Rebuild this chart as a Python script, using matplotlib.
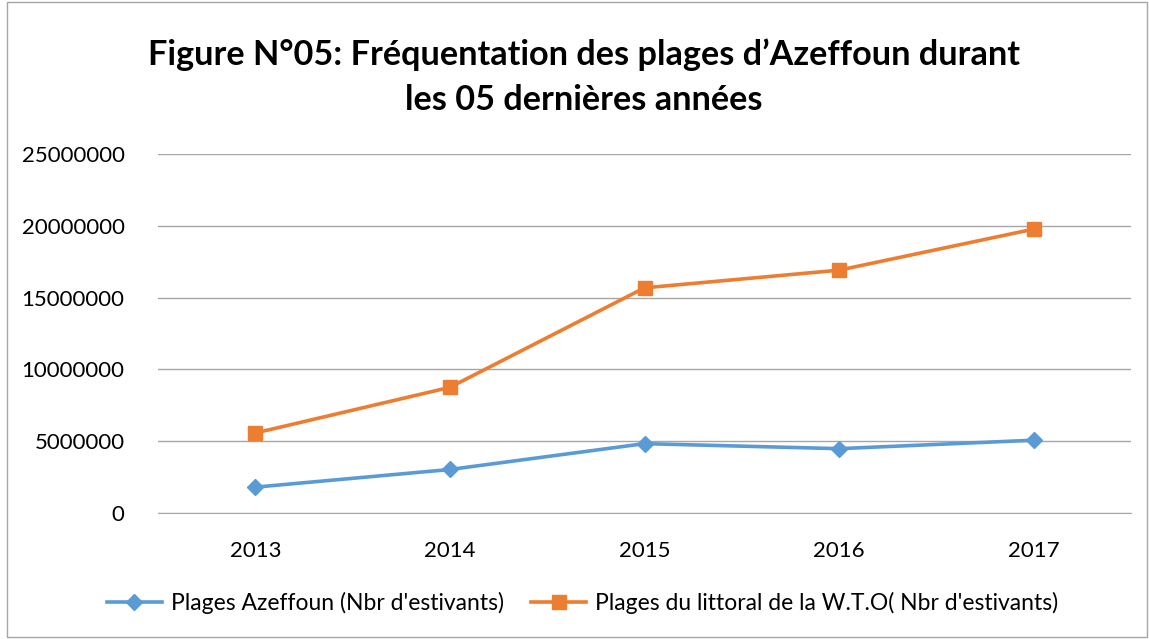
import matplotlib
matplotlib.use('Agg')
from matplotlib import pyplot as plt
from matplotlib.patches import Rectangle

years = ['2013', '2014', '2015', '2016', '2017']
azeffoun = [1800000, 3030000, 4830000, 4480000, 5070000]
littoral = [5570000, 8750000, 15680000, 16910000, 19770000]
yticks = [0, 5000000, 10000000, 15000000, 20000000, 25000000]

plt.rcParams['font.family'] = ['Lato', 'DejaVu Sans']

fig = plt.figure(figsize=(11.49, 6.39), dpi=100)
ax = fig.add_axes([158 / 1149, 1 - 513 / 639, (1131 - 158) / 1149, (513 - 154) / 639])

x = list(range(len(years)))
ax.plot(x, azeffoun, color='#5B9BD5', lw=2.6, marker='D', ms=8,
        label="Plages Azeffoun (Nbr d'estivants)")
ax.plot(x, littoral, color='#ED7D31', lw=2.6, marker='s', ms=10,
        label="Plages du littoral de la W.T.O( Nbr d'estivants)")

ax.set_xlim(-0.5, len(years) - 0.5)
ax.set_ylim(0, 25000000)
ax.set_yticks(yticks)
ax.set_yticklabels([str(v) for v in yticks])
ax.set_xticks(x)
ax.set_xticklabels(years)
ax.grid(axis='y', color='#a6a6a6', lw=1)
ax.set_axisbelow(True)
for s in ['top', 'right', 'left']:
    ax.spines[s].set_visible(False)
ax.spines['bottom'].set_color('#a6a6a6')
ax.tick_params(axis='y', length=0, pad=24, labelsize=16)
ax.tick_params(axis='x', length=0, pad=20, labelsize=16)

fig.text(0.508, 1 - 55 / 639, 'Figure N°05: Fréquentation des plages d’Azeffoun durant',
         ha='center', va='center', fontsize=24.7, fontweight='bold')
fig.text(0.508, 1 - 100 / 639, 'les 05 dernières années',
         ha='center', va='center', fontsize=24.7, fontweight='bold')

fig.legend(loc='center', bbox_to_anchor=(0.507, 1 - 603 / 639), ncol=2, frameon=False,
           fontsize=16.5, handlelength=2.4, columnspacing=1.2, handletextpad=0.4)

fig.patches.append(Rectangle((7 / 1149, 2 / 639), 1 - 9 / 1149, 1 - 4 / 639, transform=fig.transFigure,
                             fill=False, edgecolor='#a6a6a6', lw=1))

fig.savefig('out.png', dpi=100)
